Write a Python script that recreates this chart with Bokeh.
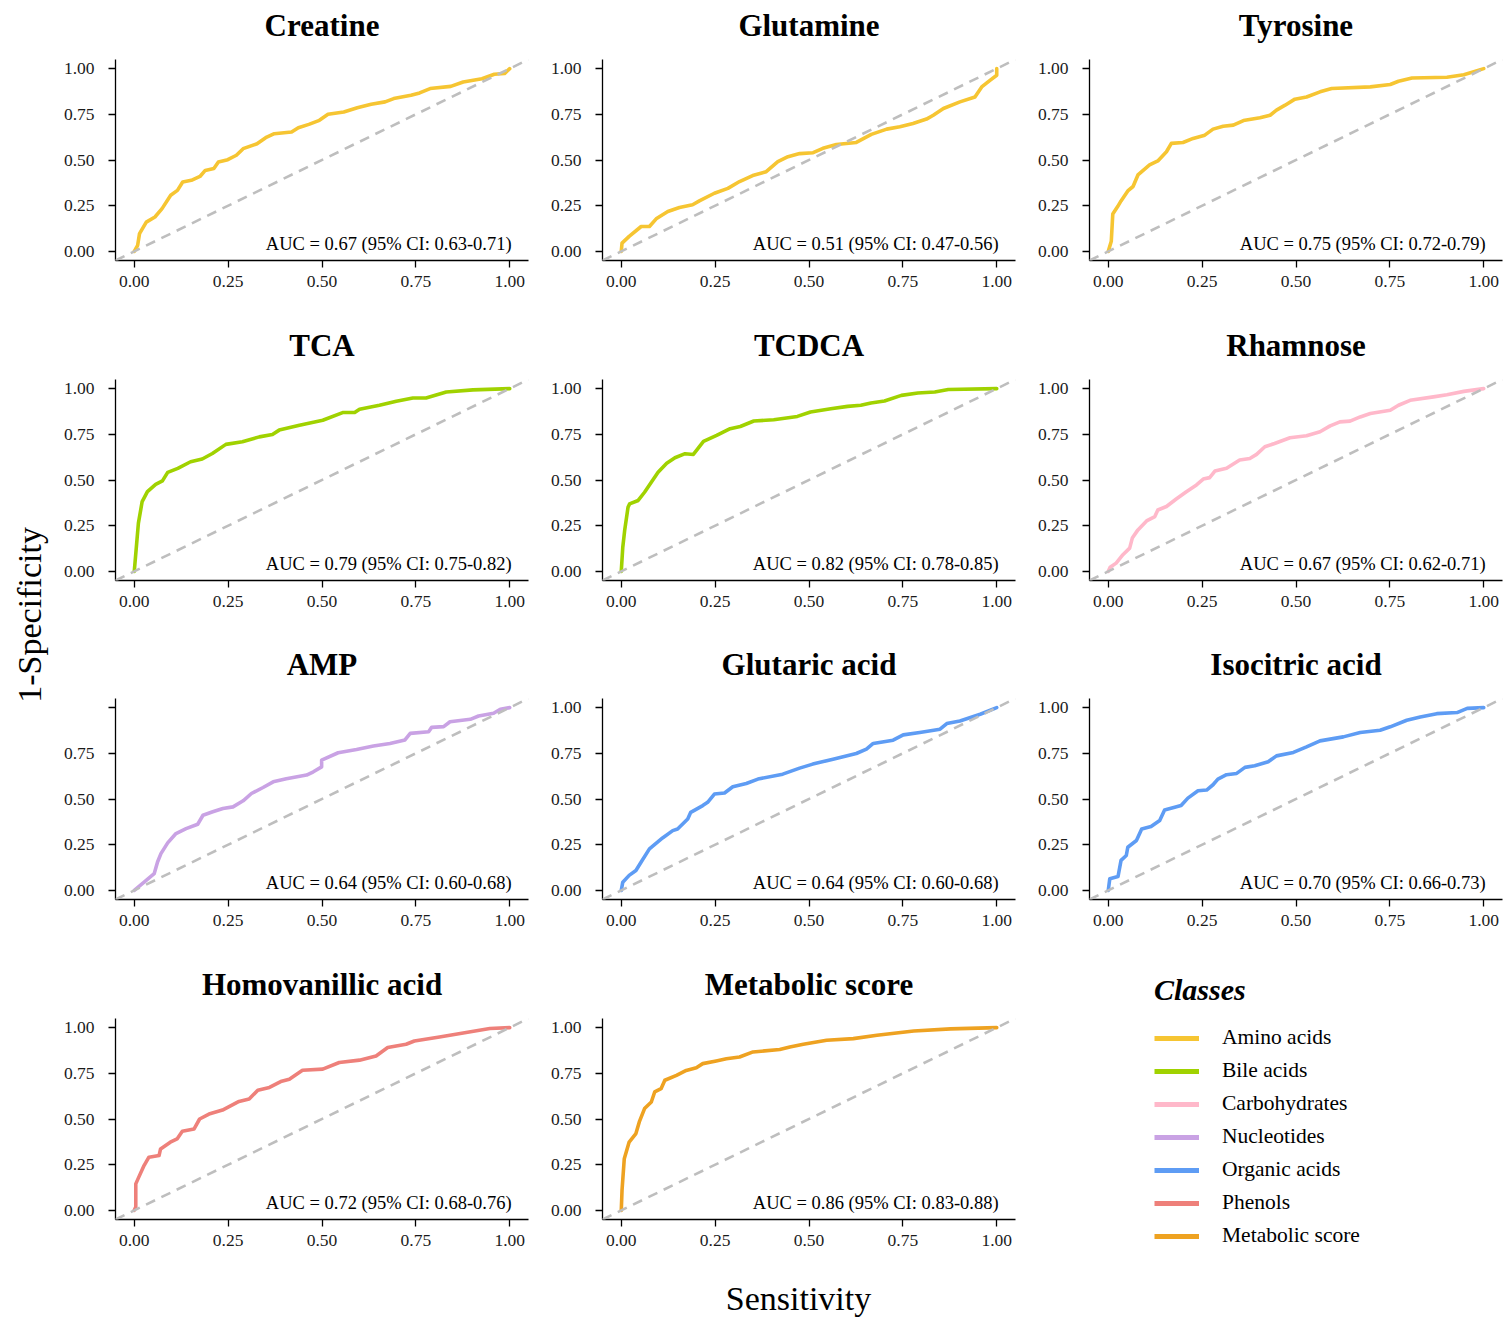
from math import pi
from bokeh.plotting import figure
from bokeh.layouts import row, column
from bokeh.models import Range1d, FixedTicker, Legend, LegendItem, Slope, Label
from bokeh.embed import file_html
from bokeh.resources import INLINE

FONT = "Liberation Serif"

# ---------------- data ----------------
tick_values = [0.0, 0.25, 0.5, 0.75, 1.0]
tick_labels = ["0.00", "0.25", "0.50", "0.75", "1.00"]

class_names = ["Amino acids", "Bile acids", "Carbohydrates", "Nucleotides",
               "Organic acids", "Phenols", "Metabolic score"]
class_colors = ["#F6C532", "#A0D200", "#FFB8CA", "#C9A2E4",
                "#5E9CF4", "#EE807A", "#EEA221"]

panel_names = ["Creatine", "Glutamine", "Tyrosine", "TCA", "TCDCA", "Rhamnose",
               "AMP", "Glutaric acid", "Isocitric acid", "Homovanillic acid",
               "Metabolic score"]
panel_classes = ["Amino acids", "Amino acids", "Amino acids", "Bile acids", "Bile acids",
                 "Carbohydrates", "Nucleotides", "Organic acids", "Organic acids",
                 "Phenols", "Metabolic score"]
auc_texts = ["AUC = 0.67 (95% CI: 0.63-0.71)", "AUC = 0.51 (95% CI: 0.47-0.56)",
             "AUC = 0.75 (95% CI: 0.72-0.79)", "AUC = 0.79 (95% CI: 0.75-0.82)",
             "AUC = 0.82 (95% CI: 0.78-0.85)", "AUC = 0.67 (95% CI: 0.62-0.71)",
             "AUC = 0.64 (95% CI: 0.60-0.68)", "AUC = 0.64 (95% CI: 0.60-0.68)",
             "AUC = 0.70 (95% CI: 0.66-0.73)", "AUC = 0.72 (95% CI: 0.68-0.76)",
             "AUC = 0.86 (95% CI: 0.83-0.88)"]

creatine_x = [0, 0.009, 0.014, 0.032, 0.055, 0.074, 0.097, 0.115, 0.129, 0.152, 0.175, 0.189,
              0.212, 0.224, 0.249, 0.272, 0.29, 0.327, 0.35, 0.373, 0.419, 0.437, 0.465, 0.493,
              0.516, 0.558, 0.594, 0.631, 0.668, 0.691, 0.737, 0.76, 0.788, 0.843, 0.876, 0.926,
              0.959, 0.986, 1.0]
creatine_y = [0, 0.033, 0.097, 0.16, 0.188, 0.234, 0.307, 0.334, 0.38, 0.389, 0.41, 0.443,
              0.453, 0.489, 0.502, 0.526, 0.562, 0.589, 0.622, 0.644, 0.653, 0.677, 0.695, 0.717,
              0.75, 0.763, 0.786, 0.805, 0.818, 0.836, 0.854, 0.867, 0.891, 0.903, 0.927, 0.945,
              0.969, 0.973, 1.0]

glutamine_x = [0, 0.002, 0.021, 0.053, 0.075, 0.093, 0.124, 0.155, 0.19, 0.208, 0.248, 0.284,
               0.315, 0.35, 0.386, 0.417, 0.444, 0.475, 0.511, 0.537, 0.573, 0.626, 0.666, 0.707,
               0.742, 0.777, 0.813, 0.831, 0.858, 0.902, 0.942, 0.96, 0.982, 1.0, 1.0]
glutamine_y = [0, 0.045, 0.082, 0.136, 0.136, 0.178, 0.218, 0.24, 0.255, 0.276, 0.318, 0.345,
               0.382, 0.415, 0.436, 0.491, 0.518, 0.535, 0.54, 0.564, 0.585, 0.596, 0.64, 0.669,
               0.682, 0.7, 0.724, 0.745, 0.782, 0.818, 0.845, 0.9, 0.936, 0.964, 1.0]

tyrosine_x = [0, 0.008, 0.012, 0.025, 0.034, 0.052, 0.066, 0.079, 0.11, 0.132, 0.155, 0.168,
              0.199, 0.226, 0.257, 0.279, 0.306, 0.333, 0.36, 0.404, 0.431, 0.448, 0.471, 0.497,
              0.528, 0.564, 0.595, 0.698, 0.751, 0.773, 0.809, 0.902, 0.947, 1.0]
tyrosine_y = [0, 0.055, 0.204, 0.245, 0.276, 0.331, 0.355, 0.418, 0.473, 0.495, 0.545, 0.591,
              0.596, 0.618, 0.636, 0.669, 0.685, 0.691, 0.716, 0.731, 0.745, 0.773, 0.8, 0.833,
              0.845, 0.873, 0.891, 0.9, 0.913, 0.931, 0.949, 0.953, 0.967, 1.0]

tca_x = [0, 0.011, 0.021, 0.035, 0.057, 0.075, 0.089, 0.116, 0.15, 0.181, 0.208, 0.244, 0.288,
         0.333, 0.368, 0.386, 0.44, 0.502, 0.555, 0.587, 0.6, 0.653, 0.698, 0.742, 0.777, 0.831,
         0.902, 1.0]
tca_y = [0, 0.264, 0.382, 0.436, 0.476, 0.495, 0.542, 0.564, 0.6, 0.615, 0.645, 0.695, 0.709,
         0.736, 0.749, 0.773, 0.8, 0.827, 0.869, 0.869, 0.887, 0.909, 0.931, 0.949, 0.949, 0.982,
         0.993, 1.0]

tcdca_x = [0, 0.004, 0.009, 0.018, 0.022, 0.045, 0.062, 0.08, 0.098, 0.121, 0.143, 0.17, 0.192,
           0.219, 0.254, 0.29, 0.317, 0.353, 0.406, 0.469, 0.504, 0.558, 0.603, 0.638, 0.665,
           0.701, 0.746, 0.79, 0.835, 0.871, 1.0]
tcdca_y = [0, 0.132, 0.223, 0.351, 0.369, 0.388, 0.433, 0.488, 0.543, 0.592, 0.622, 0.644, 0.64,
           0.711, 0.744, 0.781, 0.793, 0.823, 0.83, 0.848, 0.872, 0.89, 0.903, 0.909, 0.921,
           0.932, 0.963, 0.976, 0.982, 0.995, 1.0]

rhamnose_x = [0, 0.005, 0.021, 0.039, 0.057, 0.064, 0.079, 0.102, 0.124, 0.132, 0.155, 0.181,
              0.208, 0.235, 0.253, 0.27, 0.284, 0.315, 0.35, 0.377, 0.395, 0.417, 0.443, 0.484,
              0.528, 0.564, 0.591, 0.617, 0.644, 0.671, 0.698, 0.751, 0.773, 0.804, 0.866, 0.902,
              0.947, 1.0]
rhamnose_y = [0, 0.022, 0.045, 0.091, 0.127, 0.182, 0.227, 0.276, 0.3, 0.336, 0.355, 0.396,
              0.436, 0.473, 0.505, 0.513, 0.549, 0.564, 0.609, 0.618, 0.64, 0.682, 0.7, 0.731,
              0.742, 0.764, 0.796, 0.818, 0.822, 0.845, 0.864, 0.882, 0.909, 0.936, 0.955, 0.967,
              0.985, 1.0]

amp_x = [0, 0.027, 0.053, 0.062, 0.071, 0.089, 0.111, 0.138, 0.169, 0.183, 0.209, 0.236, 0.263,
         0.29, 0.312, 0.343, 0.37, 0.405, 0.441, 0.459, 0.477, 0.499, 0.499, 0.543, 0.592, 0.637,
         0.681, 0.721, 0.735, 0.784, 0.792, 0.824, 0.841, 0.895, 0.917, 0.957, 0.975, 1.0]
amp_y = [0, 0.046, 0.091, 0.155, 0.201, 0.26, 0.311, 0.338, 0.362, 0.411, 0.43, 0.448, 0.457,
         0.49, 0.53, 0.563, 0.594, 0.611, 0.625, 0.631, 0.649, 0.676, 0.713, 0.753, 0.771, 0.79,
         0.804, 0.823, 0.859, 0.868, 0.892, 0.896, 0.923, 0.936, 0.954, 0.969, 0.991, 1.0]

glutaric_x = [0, 0.004, 0.021, 0.039, 0.053, 0.075, 0.11, 0.137, 0.15, 0.177, 0.185, 0.217, 0.23,
              0.248, 0.275, 0.297, 0.333, 0.364, 0.43, 0.475, 0.51, 0.564, 0.626, 0.653, 0.671,
              0.724, 0.751, 0.795, 0.849, 0.867, 0.902, 0.956, 1.0]
glutaric_y = [0, 0.045, 0.082, 0.109, 0.155, 0.227, 0.287, 0.327, 0.336, 0.391, 0.427, 0.464,
              0.482, 0.527, 0.533, 0.567, 0.585, 0.609, 0.636, 0.669, 0.691, 0.718, 0.749, 0.773,
              0.804, 0.822, 0.851, 0.864, 0.882, 0.913, 0.927, 0.964, 1.0]

isocitric_x = [0, 0.004, 0.026, 0.034, 0.048, 0.052, 0.075, 0.089, 0.114, 0.137, 0.15, 0.194,
               0.212, 0.239, 0.262, 0.279, 0.292, 0.315, 0.342, 0.364, 0.39, 0.426, 0.448, 0.493,
               0.528, 0.564, 0.626, 0.671, 0.724, 0.751, 0.795, 0.831, 0.875, 0.929, 0.956, 1.0]
isocitric_y = [0, 0.064, 0.076, 0.164, 0.191, 0.236, 0.273, 0.336, 0.349, 0.382, 0.44, 0.464,
               0.505, 0.545, 0.549, 0.578, 0.609, 0.633, 0.64, 0.673, 0.682, 0.704, 0.736, 0.755,
               0.785, 0.818, 0.84, 0.864, 0.876, 0.895, 0.931, 0.949, 0.967, 0.973, 0.996, 1.0]

homovanillic_x = [0, 0.004, 0.004, 0.012, 0.026, 0.039, 0.066, 0.07, 0.096, 0.114, 0.128, 0.159,
                  0.174, 0.199, 0.235, 0.279, 0.306, 0.329, 0.36, 0.39, 0.413, 0.448, 0.502,
                  0.546, 0.6, 0.644, 0.675, 0.724, 0.746, 0.813, 0.884, 0.947, 1.0]
homovanillic_y = [0, 0.018, 0.145, 0.182, 0.245, 0.291, 0.3, 0.336, 0.373, 0.391, 0.433, 0.445,
                  0.5, 0.527, 0.549, 0.596, 0.609, 0.658, 0.673, 0.705, 0.718, 0.767, 0.773,
                  0.809, 0.822, 0.845, 0.891, 0.909, 0.927, 0.949, 0.973, 0.995, 1.0]

metabolic_x = [0, 0.002, 0.008, 0.021, 0.039, 0.048, 0.062, 0.08, 0.089, 0.106, 0.116, 0.147,
               0.173, 0.2, 0.217, 0.253, 0.28, 0.315, 0.351, 0.422, 0.449, 0.485, 0.547, 0.618,
               0.681, 0.779, 0.877, 1.0]
metabolic_y = [0, 0.109, 0.283, 0.374, 0.42, 0.484, 0.557, 0.593, 0.648, 0.666, 0.712, 0.739,
               0.766, 0.781, 0.803, 0.818, 0.83, 0.839, 0.867, 0.88, 0.894, 0.909, 0.931, 0.94,
               0.958, 0.982, 0.993, 1.0]

curves_x = [creatine_x, glutamine_x, tyrosine_x, tca_x, tcdca_x, rhamnose_x, amp_x,
            glutaric_x, isocitric_x, homovanillic_x, metabolic_x]
curves_y = [creatine_y, glutamine_y, tyrosine_y, tca_y, tcdca_y, rhamnose_y, amp_y,
            glutaric_y, isocitric_y, homovanillic_y, metabolic_y]

color_of = dict(zip(class_names, class_colors))

# ---------------- layout sizes ----------------
YLAB_W = 58
COL_W = [487, 487, 476]
ROW_H = [320, 319, 320, 300]
BORDER_L = 57
FRAME_W = 413
FRAME_H = 201
TITLE_H = 44
BORDER_T = 59 - TITLE_H


def blank(fig):
    fig.outline_line_color = None
    fig.xgrid.visible = False
    fig.ygrid.visible = False
    fig.background_fill_color = "white"
    fig.border_fill_color = "white"


def make_title(i, col):
    w = COL_W[col]
    t = figure(width=w, height=TITLE_H, output_backend="svg", toolbar_location=None,
               x_range=Range1d(0, 1), y_range=Range1d(0, 1),
               x_axis_location=None, y_axis_location=None,
               min_border_left=BORDER_L, min_border_right=w - BORDER_L - FRAME_W,
               min_border_top=0, min_border_bottom=0)
    blank(t)
    t.text(x=[0.5], y=[0.43], text=[panel_names[i]], text_align="center",
           text_baseline="middle", text_font={"value": FONT}, text_font_size="31px",
           text_font_style="bold", text_color="black")
    return t


def make_panel(i, col, rowi):
    w = COL_W[col]
    h = ROW_H[rowi] - TITLE_H
    p = figure(width=w, height=h, output_backend="svg", toolbar_location=None,
               x_range=Range1d(-0.05, 1.05), y_range=Range1d(-0.05, 1.05),
               min_border_left=BORDER_L, min_border_right=w - BORDER_L - FRAME_W,
               min_border_top=BORDER_T, min_border_bottom=h - BORDER_T - FRAME_H)
    blank(p)
    for ax in (p.xaxis[0], p.yaxis[0]):
        ax.ticker = FixedTicker(ticks=tick_values)
        ax.major_label_overrides = dict(zip(tick_values, tick_labels))
        ax.axis_line_color = "black"
        ax.axis_line_width = 1.3
        ax.major_tick_line_color = "black"
        ax.major_tick_line_width = 1.3
        ax.major_tick_out = 7
        ax.major_tick_in = 0
        ax.minor_tick_line_color = None
        ax.major_label_text_font = FONT
        ax.major_label_text_font_size = "17.5px"
        ax.major_label_text_color = "#1a1a1a"
    p.xaxis[0].major_label_standoff = 8
    p.yaxis[0].major_label_standoff = 14
    if panel_names[i] == "AMP":
        ov = dict(zip(tick_values, tick_labels))
        ov[1.0] = ""
        p.yaxis[0].major_label_overrides = ov

    p.line(curves_x[i], curves_y[i], line_color=color_of[panel_classes[i]],
           line_width=3.6, line_join="round", line_cap="round")
    p.add_layout(Slope(gradient=1, y_intercept=0, line_color="#BEBEBE",
                       line_width=2.6, line_dash="10 7"))
    p.add_layout(Label(x=1.005, y=0.04, text=auc_texts[i], text_align="right",
                       text_baseline="middle", text_font=FONT,
                       text_font_size="18.5px", text_color="black"))
    return p


cells = []
for i in range(len(panel_names)):
    col, rowi = i % 3, i // 3
    cells.append(column(make_title(i, col), make_panel(i, col, rowi)))

# legend figure (class proxies drawn off-frame from each class's first curve)
leg = figure(width=COL_W[2], height=ROW_H[3], output_backend="svg", toolbar_location=None,
             x_range=Range1d(5, 6), y_range=Range1d(5, 6),
             x_axis_location=None, y_axis_location=None,
             min_border_left=BORDER_L, min_border_right=COL_W[2] - BORDER_L - FRAME_W,
             min_border_top=0, min_border_bottom=0)
blank(leg)
items = []
for name, colr in zip(class_names, class_colors):
    k = panel_classes.index(name)
    r = leg.line(x=curves_x[k], y=curves_y[k], line_color=colr, line_width=5)
    items.append(LegendItem(label=name, renderers=[r]))
legend = Legend(items=items, location=(65, 11), title="Classes",
                title_text_font=FONT, title_text_font_size="30px",
                title_text_font_style="bold italic", title_text_color="black",
                title_standoff=18,
                label_text_font=FONT, label_text_font_size="21.5px", label_text_color="black",
                glyph_width=45, glyph_height=24, label_height=24, label_standoff=23,
                spacing=8, padding=0, margin=0, border_line_color=None,
                background_fill_alpha=0)
leg.add_layout(legend, "center")

# global axis labels
ylab = figure(width=YLAB_W, height=sum(ROW_H), output_backend="svg", toolbar_location=None,
              x_range=Range1d(0, 1), y_range=Range1d(0, 1),
              x_axis_location=None, y_axis_location=None,
              min_border=0)
blank(ylab)
ylab.text(x=[0.5], y=[0.512], text=["1-Specificity"], angle=pi / 2,
          text_align="center", text_baseline="middle", text_font_size="34px",
          text_font={"value": FONT}, text_color="black")

xlab = figure(width=sum(COL_W) + YLAB_W, height=1318 - sum(ROW_H), output_backend="svg",
              toolbar_location=None, x_range=Range1d(0, 1), y_range=Range1d(0, 1),
              x_axis_location=None, y_axis_location=None, min_border=0)
blank(xlab)
xlab.text(x=[798 / 1508], y=[0.34], text=["Sensitivity"], text_align="center",
          text_baseline="middle", text_font_size="34px", text_font={"value": FONT},
          text_color="black")

cols = row(column(cells[0], cells[3], cells[6], cells[9]),
           column(cells[1], cells[4], cells[7], cells[10]),
           column(cells[2], cells[5], cells[8], leg))
page = column(row(ylab, cols), xlab)

open("out.html", "w").write(file_html(page, INLINE))
